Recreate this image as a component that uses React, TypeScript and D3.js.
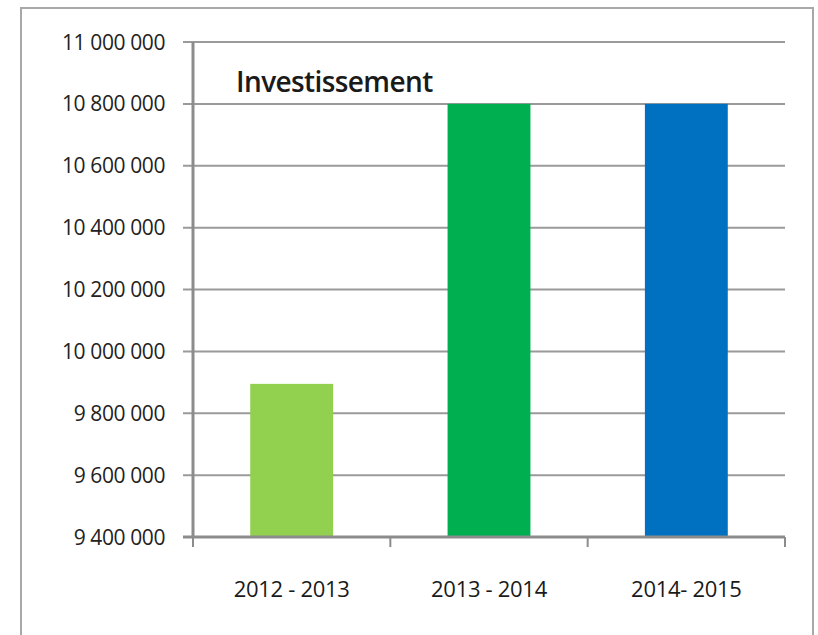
import React, { useEffect, useRef } from "react";
import * as d3 from "d3";

// Investissement par exercice
const categories = ["2012 - 2013", "2013 - 2014", "2014- 2015"];
const values = [9895000, 10800000, 10800000];
const colors = ["#92D050", "#00B050", "#0070C0"];
const yTicks = [9400000, 9600000, 9800000, 10000000, 10200000, 10400000, 10600000, 10800000, 11000000];

const fmt = (v: number) => d3.format(",")(v).replace(/,/g, " ");

const App = () => {
  const visual = useRef<SVGSVGElement>(null);

  useEffect(() => {
    const height = 635;
    const left = 193;
    const right = 785;
    const top = 42;
    const bottom = 537;

    const svg = d3.select(visual.current);
    svg.selectAll("*").remove();

    // outer frame
    svg
      .append("rect")
      .attr("x", 21)
      .attr("y", 8)
      .attr("width", 792)
      .attr("height", height + 10)
      .attr("fill", "#fff")
      .attr("stroke", "#a8a8a8")
      .attr("stroke-width", 2);

    const x = d3
      .scaleBand()
      .domain(categories)
      .range([left, right])
      .paddingInner(0.58)
      .paddingOuter(0.29);
    const y = d3.scaleLinear().domain([9400000, 11000000]).range([bottom, top]);

    // gridlines + y labels
    const yg = svg.append("g");
    yg.selectAll("line")
      .data(yTicks)
      .join("line")
      .attr("x1", left - 10)
      .attr("x2", right)
      .attr("y1", d => y(d))
      .attr("y2", d => y(d))
      .attr("stroke", "#9a9a9a")
      .attr("stroke-width", 2);
    yg.selectAll("text")
      .data(yTicks)
      .join("text")
      .attr("x", 165)
      .attr("y", d => y(d))
      .attr("dy", "0.36em")
      .attr("text-anchor", "end")
      .attr("font-family", "'Open Sans', sans-serif")
      .attr("font-size", 21)
      .attr("font-weight", 500)
      .attr("letter-spacing", -0.4)
      .attr("fill", "#222")
      .text(d => fmt(d));

    // bars
    svg
      .append("g")
      .selectAll("rect")
      .data(values)
      .join("rect")
      .attr("x", (d, i) => x(categories[i])!)
      .attr("y", d => y(d))
      .attr("width", x.bandwidth())
      .attr("height", d => bottom - y(d))
      .attr("fill", (d, i) => colors[i]);

    // axes
    svg
      .append("line")
      .attr("x1", left)
      .attr("x2", left)
      .attr("y1", top)
      .attr("y2", bottom + 1)
      .attr("stroke", "#8c8c8c")
      .attr("stroke-width", 3);
    svg
      .append("line")
      .attr("x1", left - 10)
      .attr("x2", right)
      .attr("y1", bottom)
      .attr("y2", bottom)
      .attr("stroke", "#8c8c8c")
      .attr("stroke-width", 3);
    const step = x.step();
    svg
      .append("g")
      .selectAll("line")
      .data(d3.range(categories.length + 1))
      .join("line")
      .attr("x1", i => left + i * step)
      .attr("x2", i => left + i * step)
      .attr("y1", bottom)
      .attr("y2", bottom + 10)
      .attr("stroke", "#8c8c8c")
      .attr("stroke-width", 2);

    // category labels
    svg
      .append("g")
      .selectAll("text")
      .data(categories)
      .join("text")
      .attr("x", d => x(d)! + x.bandwidth() / 2)
      .attr("y", 597)
      .attr("text-anchor", "middle")
      .attr("font-family", "'Open Sans', sans-serif")
      .attr("font-size", 22)
      .attr("font-weight", 500)
      .attr("letter-spacing", -0.3)
      .attr("fill", "#1a1a1a")
      .text(d => d);

    // title
    svg
      .append("text")
      .attr("x", 236)
      .attr("y", 92)
      .attr("font-family", "'Open Sans', sans-serif")
      .attr("font-size", 28)
      .attr("font-weight", 600)
      .attr("letter-spacing", -0.6)
      .attr("fill", "#1a1a1a")
      .text("Investissement");
  }, []);

  return (
    <svg
      ref={visual}
      width={818}
      height={635}
      style={{ position: "absolute", left: 0, top: 0, background: "#fff" }}
    />
  );
};

export default App;
